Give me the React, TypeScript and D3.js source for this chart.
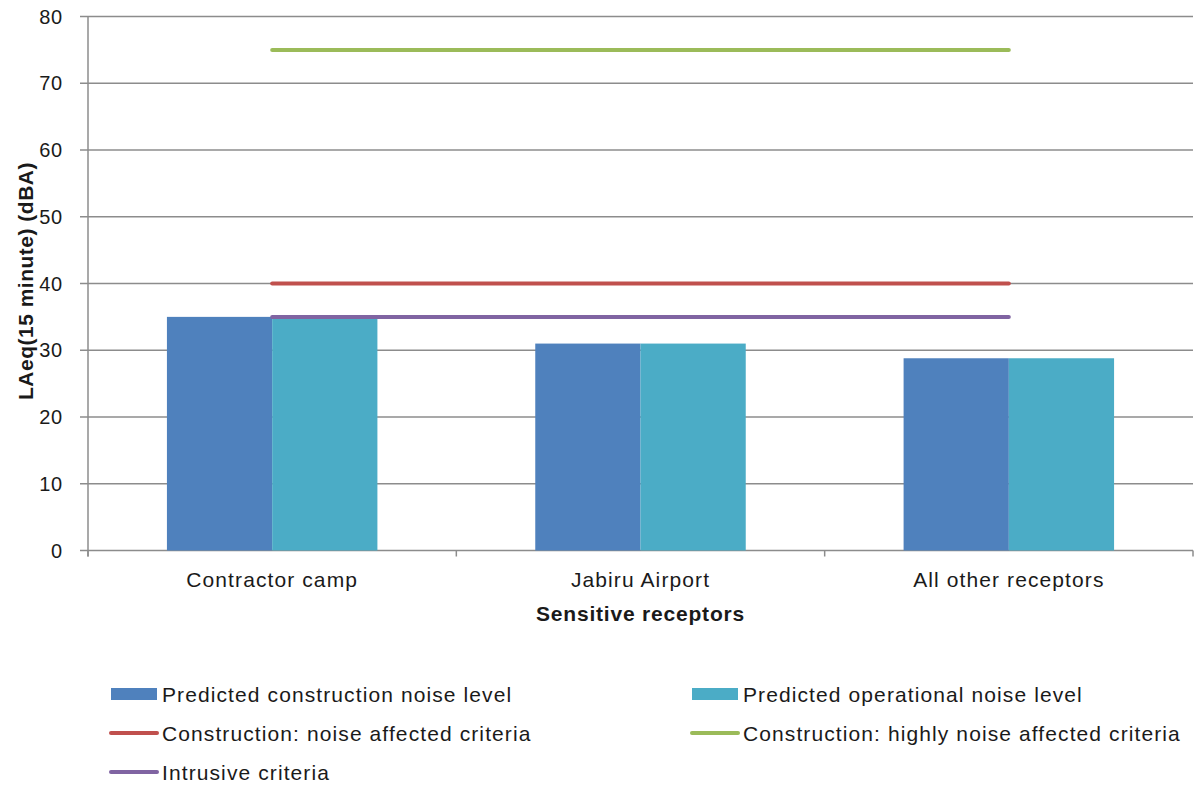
import React from "react";
import * as d3 from "d3";

// Sensitive receptor categories along the x axis
const receptors: string[] = ["Contractor camp", "Jabiru Airport", "All other receptors"];

// Predicted noise levels, LAeq(15 minute) dBA
const constructionNoise: number[] = [35, 31, 28.8];
const operationalNoise: number[] = [35, 31, 28.8];

// Criteria lines drawn across all receptors
const noiseAffected: number[] = [40, 40, 40];
const highlyNoiseAffected: number[] = [75, 75, 75];
const intrusive: number[] = [35, 35, 35];

const yTicks: number[] = [0, 10, 20, 30, 40, 50, 60, 70, 80];

const barSeries = [
  { name: "Predicted construction noise level", values: constructionNoise, color: "#4F81BD" },
  { name: "Predicted operational noise level", values: operationalNoise, color: "#4BACC6" },
];

const lineSeries = [
  { name: "Construction: noise affected criteria", values: noiseAffected, color: "#C0504D" },
  { name: "Construction: highly noise affected criteria", values: highlyNoiseAffected, color: "#9BBB59" },
  { name: "Intrusive criteria", values: intrusive, color: "#8064A2" },
];

const W = 1195;
const H = 785;
const plot = { left: 88, right: 1193, top: 16.5, bottom: 550.5 };
const FONT = "'Liberation Sans', Arial, sans-serif";
const TEXT = "#1a1a1a";
const GRID = "#8c8c8c";

export default function App() {
  const x = d3
    .scaleBand<string>()
    .domain(receptors)
    .range([plot.left, plot.right])
    .paddingInner(1.5 / 3.5)
    .paddingOuter(0.75 / 3.5);

  const xCenter = d3
    .scalePoint<string>()
    .domain(receptors)
    .range([plot.left, plot.right])
    .padding(0.5);

  const xSeries = d3
    .scaleBand<string>()
    .domain(barSeries.map((s) => s.name))
    .range([0, x.bandwidth()]);

  const y = d3.scaleLinear().domain([0, 80]).range([plot.bottom, plot.top]);

  const line = d3
    .line<number>()
    .x((_, i) => xCenter(receptors[i]) as number)
    .y((v) => y(v));

  const step = (plot.right - plot.left) / receptors.length;
  const catBounds = d3.range(receptors.length + 1).map((i) => plot.left + i * step);

  const legendItems = [
    { kind: "bar", ...barSeries[0], col: 0, row: 0 },
    { kind: "bar", ...barSeries[1], col: 1, row: 0 },
    { kind: "line", ...lineSeries[0], col: 0, row: 1 },
    { kind: "line", ...lineSeries[1], col: 1, row: 1 },
    { kind: "line", ...lineSeries[2], col: 0, row: 2 },
  ];
  const legendCols = [111, 692];
  const legendRows = [694, 733, 772];

  return (
    <>
      <style>{`body{margin:0}`}</style>
      <svg width={W} height={H} style={{ display: "block", background: "#fff" }} fontFamily={FONT}>
        {/* horizontal gridlines with left tick marks */}
        {yTicks.map((t) => (
          <line
            key={"g" + t}
            x1={80}
            x2={plot.right}
            y1={y(t)}
            y2={y(t)}
            stroke={GRID}
            strokeWidth={1.5}
          />
        ))}
        {/* y axis */}
        <line x1={plot.left} x2={plot.left} y1={plot.top} y2={plot.bottom + 6} stroke={GRID} strokeWidth={1.5} />
        {/* x axis category ticks */}
        {catBounds.map((b, i) => (
          <line key={"xt" + i} x1={b} x2={b} y1={plot.bottom} y2={plot.bottom + 6} stroke={GRID} strokeWidth={1.5} />
        ))}
        {/* y tick labels */}
        {yTicks.map((t) => (
          <text
            key={"yl" + t}
            x={63}
            y={y(t)}
            dy="0.35em"
            textAnchor="end"
            fontSize={20}
            letterSpacing={0.8}
            fill={TEXT}
          >
            {t}
          </text>
        ))}
        {/* bars */}
        {receptors.map((r, i) =>
          barSeries.map((s) => (
            <rect
              key={r + s.name}
              x={(x(r) as number) + (xSeries(s.name) as number)}
              y={y(s.values[i])}
              width={xSeries.bandwidth()}
              height={y(0) - y(s.values[i])}
              fill={s.color}
            />
          ))
        )}
        {/* criteria lines */}
        {lineSeries.map((s) => (
          <path
            key={s.name}
            d={line(s.values) as string}
            fill="none"
            stroke={s.color}
            strokeWidth={4}
            strokeLinecap="round"
          />
        ))}
        {/* category labels */}
        {receptors.map((r) => (
          <text
            key={"cl" + r}
            x={xCenter(r)}
            y={587}
            textAnchor="middle"
            fontSize={21}
            letterSpacing={1.1}
            fill={TEXT}
          >
            {r}
          </text>
        ))}
        {/* axis titles */}
        <text
          x={(plot.left + plot.right) / 2 + 88 / 2 - 44}
          y={621}
          textAnchor="middle"
          fontSize={21}
          fontWeight="bold"
          letterSpacing={0.8}
          fill={TEXT}
        >
          Sensitive receptors
        </text>
        <text
          transform={`translate(33, 281) rotate(-90)`}
          textAnchor="middle"
          fontSize={21}
          fontWeight="bold"
          letterSpacing={0.5}
          fill={TEXT}
        >
          LAeq(15 minute) (dBA)
        </text>
        {/* legend */}
        {legendItems.map((it) => {
          const lx = legendCols[it.col];
          const ly = legendRows[it.row];
          return (
            <g key={"lg" + it.name}>
              {it.kind === "bar" ? (
                <rect x={lx} y={ly - 6} width={46} height={12} fill={it.color} />
              ) : (
                <line x1={lx} x2={lx + 46} y1={ly} y2={ly} stroke={it.color} strokeWidth={4} strokeLinecap="round" />
              )}
              <text x={lx + 51} y={ly} dy="0.36em" fontSize={21} letterSpacing={1.1} fill={TEXT}>
                {it.name}
              </text>
            </g>
          );
        })}
      </svg>
    </>
  );
}
